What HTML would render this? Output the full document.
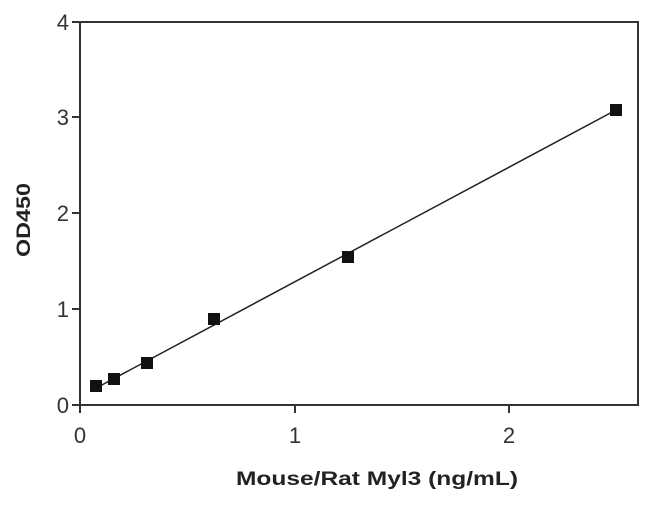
<!DOCTYPE html>
<html><head><style>body{margin:0;background:#fff}</style></head><body>
<svg width="650" height="502" xmlns="http://www.w3.org/2000/svg" font-family="Liberation Sans, sans-serif">
<rect x="0" y="0" width="650" height="502" fill="#fff"/>
<rect x="80" y="22" width="558" height="383" fill="none" stroke="#333" stroke-width="2"/>
<g stroke="#333" stroke-width="2">
<line x1="72" y1="405" x2="80" y2="405"/>
<line x1="72" y1="309" x2="80" y2="309"/>
<line x1="72" y1="213" x2="80" y2="213"/>
<line x1="72" y1="117" x2="80" y2="117"/>
<line x1="72" y1="22" x2="80" y2="22"/>
<line x1="80" y1="405" x2="80" y2="413"/>
<line x1="295" y1="405" x2="295" y2="413"/>
<line x1="509" y1="405" x2="509" y2="413"/>
</g>
<g font-size="22" fill="#333" text-anchor="end">
<text x="69" y="413">0</text>
<text x="69" y="317">1</text>
<text x="69" y="221">2</text>
<text x="69" y="125">3</text>
<text x="69" y="30">4</text>
</g>
<g font-size="22" fill="#333" text-anchor="middle">
<text x="80" y="443">0</text>
<text x="295" y="443">1</text>
<text x="509" y="443">2</text>
</g>
<text x="377" y="485" font-size="19" font-weight="bold" text-anchor="middle" fill="#222" textLength="282" lengthAdjust="spacingAndGlyphs">Mouse/Rat Myl3 (ng/mL)</text>
<text transform="translate(30,220) rotate(-90)" font-size="19" font-weight="bold" text-anchor="middle" fill="#222" textLength="74" lengthAdjust="spacingAndGlyphs">OD450</text>
<line x1="100" y1="386" x2="616" y2="110" stroke="#222" stroke-width="1.5"/>
<g fill="#111">
<rect x="90" y="380" width="12" height="12"/>
<rect x="108" y="373" width="12" height="12"/>
<rect x="141" y="357" width="12" height="12"/>
<rect x="208" y="313" width="12" height="12"/>
<rect x="342" y="251" width="12" height="12"/>
<rect x="610" y="104" width="12" height="12"/>
</g>
</svg>
</body></html>
